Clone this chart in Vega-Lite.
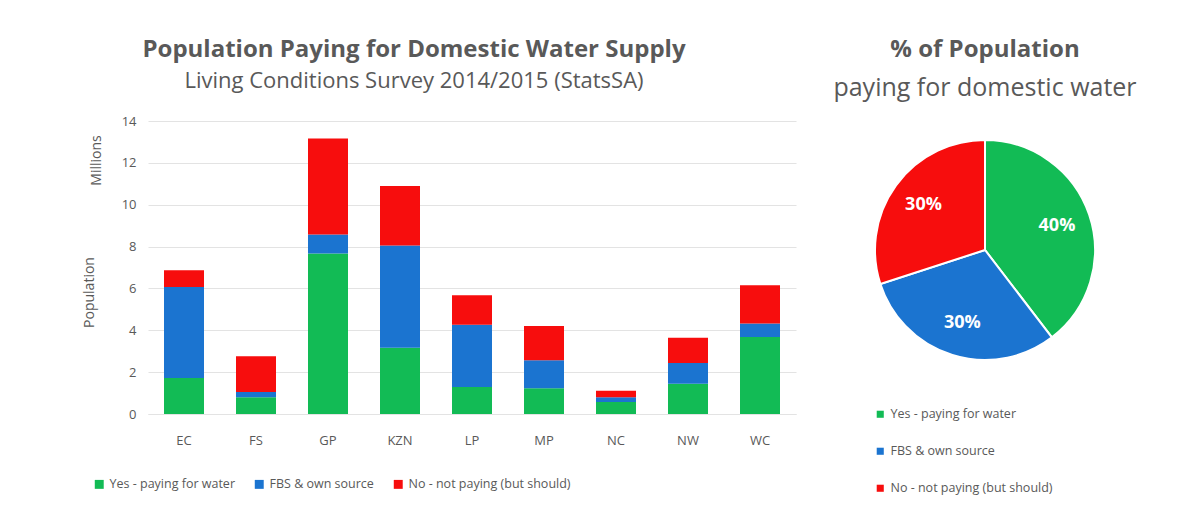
{
  "$schema": "https://vega.github.io/schema/vega-lite/v6.json",
  "background": "white",
  "padding": {"left": 82, "top": 38, "right": 0, "bottom": 0},
  "config": {
    "font": "Open Sans",
    "view": {"stroke": null},
    "axis": {"labelColor": "#595959", "titleColor": "#595959", "labelFont": "Open Sans", "titleFont": "Open Sans"},
    "legend": {"labelColor": "#595959", "labelFont": "Open Sans"}
  },
  "datasets": {
    "bars": [
      {"province": "EC", "series": "Yes - paying for water", "k": 1, "value": 1.72},
      {"province": "EC", "series": "FBS & own source", "k": 2, "value": 4.35},
      {"province": "EC", "series": "No - not paying (but should)", "k": 3, "value": 0.80},
      {"province": "FS", "series": "Yes - paying for water", "k": 1, "value": 0.80},
      {"province": "FS", "series": "FBS & own source", "k": 2, "value": 0.25},
      {"province": "FS", "series": "No - not paying (but should)", "k": 3, "value": 1.71},
      {"province": "GP", "series": "Yes - paying for water", "k": 1, "value": 7.67},
      {"province": "GP", "series": "FBS & own source", "k": 2, "value": 0.91},
      {"province": "GP", "series": "No - not paying (but should)", "k": 3, "value": 4.58},
      {"province": "KZN", "series": "Yes - paying for water", "k": 1, "value": 3.16},
      {"province": "KZN", "series": "FBS & own source", "k": 2, "value": 4.89},
      {"province": "KZN", "series": "No - not paying (but should)", "k": 3, "value": 2.84},
      {"province": "LP", "series": "Yes - paying for water", "k": 1, "value": 1.29},
      {"province": "LP", "series": "FBS & own source", "k": 2, "value": 2.97},
      {"province": "LP", "series": "No - not paying (but should)", "k": 3, "value": 1.41},
      {"province": "MP", "series": "Yes - paying for water", "k": 1, "value": 1.23},
      {"province": "MP", "series": "FBS & own source", "k": 2, "value": 1.34},
      {"province": "MP", "series": "No - not paying (but should)", "k": 3, "value": 1.64},
      {"province": "NC", "series": "Yes - paying for water", "k": 1, "value": 0.57},
      {"province": "NC", "series": "FBS & own source", "k": 2, "value": 0.23},
      {"province": "NC", "series": "No - not paying (but should)", "k": 3, "value": 0.31},
      {"province": "NW", "series": "Yes - paying for water", "k": 1, "value": 1.44},
      {"province": "NW", "series": "FBS & own source", "k": 2, "value": 1.00},
      {"province": "NW", "series": "No - not paying (but should)", "k": 3, "value": 1.20},
      {"province": "WC", "series": "Yes - paying for water", "k": 1, "value": 3.68},
      {"province": "WC", "series": "FBS & own source", "k": 2, "value": 0.64},
      {"province": "WC", "series": "No - not paying (but should)", "k": 3, "value": 1.83}
    ],
    "pie": [
      {"series": "Yes - paying for water", "k": 1, "share": 39.6, "label": "40%"},
      {"series": "FBS & own source", "k": 2, "share": 30.4, "label": "30%"},
      {"series": "No - not paying (but should)", "k": 3, "share": 30.0, "label": "30%"}
    ]
  },
  "hconcat": [
    {
      "width": 648,
      "height": 293,
      "data": {"name": "bars"},
      "title": {
        "text": "Population Paying for Domestic Water Supply",
        "subtitle": "Living Conditions Survey 2014/2015 (StatsSA)",
        "anchor": "middle",
        "dx": -58,
        "fontSize": 24,
        "fontWeight": "bold",
        "color": "#595959",
        "subtitleFontSize": 22,
        "subtitleColor": "#595959",
        "subtitlePadding": 9,
        "offset": 23
      },
      "layer": [
        {
          "mark": {"type": "bar", "width": 40},
          "encoding": {
            "x": {"field": "province", "type": "nominal", "sort": null,
              "scale": {"paddingInner": 0.44, "paddingOuter": 0.22},
              "axis": {"title": null, "labelAngle": 0, "labelFontSize": 13, "labelPadding": 20, "ticks": false, "domain": true, "domainColor": "#e3e3e3"}},
            "y": {"field": "value", "type": "quantitative", "stack": "zero",
              "scale": {"domain": [0, 14]},
              "axis": {"values": [0, 2, 4, 6, 8, 10, 12, 14], "title": "Millions", "titleFontSize": 14, "titleFontWeight": "normal", "titleX": -45, "titleY": 39, "labelFontSize": 13, "labelPadding": 12, "ticks": false, "domain": false, "gridColor": "#e3e3e3"}},
            "color": {"field": "series", "type": "nominal",
              "scale": {"domain": ["Yes - paying for water", "FBS & own source", "No - not paying (but should)"], "range": ["#12bb55", "#1b74d0", "#f70d0d"]},
              "legend": {"title": null, "orient": "none", "direction": "horizontal", "legendX": -55, "legendY": 357, "symbolType": "square", "symbolSize": 80, "symbolStrokeWidth": 0, "labelFontSize": 12.5, "labelLimit": 400, "columnPadding": 18, "labelOffset": 4}},
            "order": {"field": "k", "type": "quantitative"}
          }
        },
        {
          "mark": {"type": "bar", "opacity": 0},
          "encoding": {
            "x": {"field": "province", "type": "nominal", "sort": null},
            "y": {"field": "value", "type": "quantitative", "stack": "zero",
              "scale": {"domain": [0, 14]},
              "axis": {"orient": "left", "title": "Population", "titleFontSize": 14, "titleFontWeight": "normal", "titleX": -52, "titleY": 171, "labels": false, "ticks": false, "domain": false, "grid": false}}
          }
        }
      ],
      "resolve": {"scale": {"y": "independent"}}
    },
    {
      "width": 230,
      "height": 258,
      "data": {"name": "pie"},
      "title": {
        "text": "% of Population",
        "subtitle": "paying for domestic water",
        "anchor": "middle",
        "fontSize": 24,
        "fontWeight": "bold",
        "color": "#595959",
        "subtitleFontSize": 25,
        "subtitleColor": "#595959",
        "subtitlePadding": 14,
        "offset": 20
      },
      "layer": [
        {
          "mark": {"type": "arc", "outerRadius": 110, "stroke": "white", "strokeWidth": 2},
          "encoding": {
            "theta": {"field": "share", "type": "quantitative", "stack": true},
            "color": {"field": "series", "type": "nominal",
              "scale": {"domain": ["Yes - paying for water", "FBS & own source", "No - not paying (but should)"], "range": ["#12bb55", "#1b74d0", "#f70d0d"]},
              "legend": {"title": null, "orient": "none", "direction": "vertical", "legendX": 4, "legendY": 287, "symbolType": "square", "symbolSize": 50, "symbolStrokeWidth": 0, "labelFontSize": 12.5, "labelLimit": 400, "rowPadding": 24, "labelOffset": 4}},
            "order": {"field": "k", "type": "quantitative"}
          }
        },
        {
          "mark": {"type": "text", "radius": 76, "fontSize": 18, "fontWeight": "bold", "color": "white"},
          "encoding": {
            "theta": {"field": "share", "type": "quantitative", "stack": true},
            "text": {"field": "label"},
            "order": {"field": "k", "type": "quantitative"}
          }
        }
      ]
    }
  ],
  "spacing": 37,
  "resolve": {"scale": {"color": "independent"}, "legend": {"color": "independent"}}
}
